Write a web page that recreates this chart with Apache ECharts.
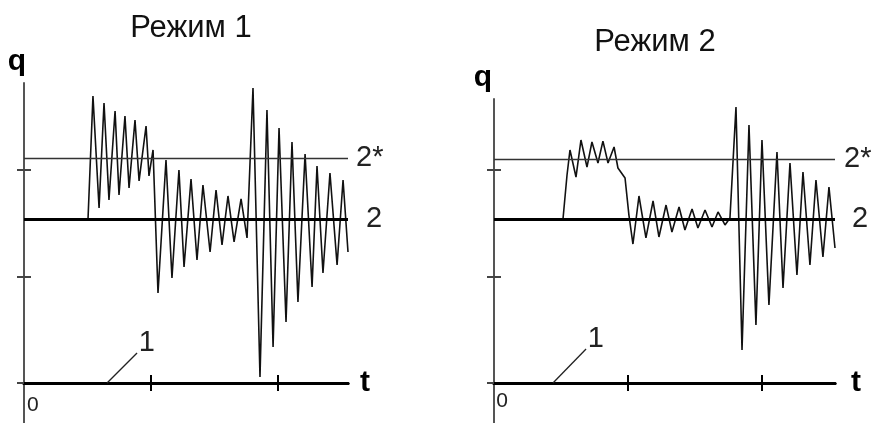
<!DOCTYPE html>
<html><head><meta charset="utf-8">
<script src="https://cdn.jsdelivr.net/npm/echarts@6/dist/echarts.min.js"></script>
<style>html,body{margin:0;padding:0;background:#fff}#c{width:875px;height:423px}</style>
</head><body><div id="c"></div>
<script>
// ---- data (t, q units: axis tick spacing = 1) ----
const titles = ['Режим 1', 'Режим 2'];
const tickValues = [0, 1, 2];
const zeroText = '0';
const zeroLabelAt = [[0.07, -0.207], [0.06, -0.17]];
const tMax = [2.551, 2.545];
const qMax = [2.817, 2.667];
const qMin = [-0.376, -0.376];
const level2 = [1.54, 1.54];
const level2star = [2.113, 2.103];
const leaderStart = [[0.654, 0], [0.440, 0]];
const leaderEnd = [[0.890, 0.282], [0.687, 0.319]];

const tLeft = [0.504,0.543,0.591,0.630,0.669,0.717,0.748,0.795,0.827,0.874,0.906,0.961,0.984,1.016,
  1.055,1.118,1.165,1.220,1.260,1.315,1.362,1.409,1.465,1.512,1.559,1.606,1.654,1.709,1.756,
  1.803,1.858,1.913,1.961,2.008,2.063,2.110,2.157,2.213,2.268,2.307,2.354,2.409,2.465,2.512,2.551];
const qLeft = [1.540,2.695,1.643,2.629,1.718,2.554,1.765,2.507,1.831,2.469,1.897,2.413,1.944,2.188,
  0.845,2.094,0.986,2.000,1.089,1.915,1.155,1.859,1.230,1.812,1.296,1.756,1.324,1.728,1.362,
  2.770,0.056,2.563,0.338,2.394,0.573,2.263,0.761,2.150,0.901,2.038,1.033,1.972,1.108,1.906,1.230];

const tRight = [0.515,0.545,0.567,0.612,0.649,0.694,0.731,0.776,0.813,0.851,0.896,0.925,0.978,1.007,1.037,
  1.082,1.134,1.187,1.231,1.284,1.328,1.381,1.425,1.478,1.522,1.575,1.627,1.672,1.724,1.761,
  1.806,1.851,1.903,1.955,2.000,2.052,2.112,2.157,2.209,2.261,2.306,2.358,2.403,2.455,2.500,2.545];
const qRight = [1.540,1.953,2.188,1.934,2.282,2.028,2.263,2.066,2.272,2.066,2.216,2.019,1.925,1.577,1.305,
  1.756,1.362,1.709,1.371,1.671,1.418,1.653,1.437,1.634,1.455,1.624,1.465,1.606,1.484,1.549,
  2.592,0.310,2.423,0.545,2.282,0.732,2.169,0.892,2.066,1.014,1.981,1.108,1.906,1.183,1.840,1.268];

const FONT = 'Liberation Sans, Arial, sans-serif';
const grids = [
  {left: 24, top: 83, width: 324, height: 340, containLabel: false, outerBoundsMode: 'none'},
  {left: 494, top: 99, width: 341, height: 324, containLabel: false, outerBoundsMode: 'none'}
];
const titlePos = [{x: 186, y: 8}, {x: 650, y: 22}];
const qNamePad = [[0, 14, 0, 0], [0, 22, 0, 0]];
const tNameGap = [12, 16];
const starDist = [8, 9];
const twoDist = [18, 17];

const chart = echarts.init(document.getElementById('c'), null, {renderer: 'canvas'});
const xAxes = [], yAxes = [], series = [], title = [];
[0, 1].forEach(p => {
  title.push({text: titles[p], left: titlePos[p].x, top: titlePos[p].y, textAlign: 'center',
    textStyle: {fontFamily: FONT, fontSize: 31, fontWeight: 'normal', color: '#111'}});
  xAxes.push({type: 'value', gridIndex: p, min: 0, max: tMax[p], position: 'bottom',
    axisLine: {show: true, onZero: true, onZeroAxisIndex: 2 * p, lineStyle: {color: '#000', width: 3}},
    axisTick: {show: true, customValues: [1, 2], length: 8, lineStyle: {color: '#000', width: 2}},
    axisLabel: {show: false},
    splitLine: {show: false},
    name: 't', nameLocation: 'end', nameGap: tNameGap[p],
    nameTextStyle: {fontFamily: FONT, fontSize: 30, fontWeight: 'bold', color: '#000', verticalAlign: 'middle'}
  });
  xAxes.push({type: 'value', gridIndex: p, min: 0, max: tMax[p], position: 'bottom',
    axisLine: {show: true, onZero: true, onZeroAxisIndex: 2 * p, lineStyle: {color: '#000', width: 3}},
    axisTick: {show: true, inside: true, customValues: [1, 2], length: 8, lineStyle: {color: '#000', width: 2}},
    axisLabel: {show: false}, splitLine: {show: false}
  });
  yAxes.push({type: 'value', gridIndex: p, min: qMin[p], max: qMax[p], position: 'left',
    axisLine: {show: true, onZero: false, lineStyle: {color: '#555', width: 2}},
    axisTick: {show: true, customValues: tickValues, length: 7, lineStyle: {color: '#444', width: 2}},
    axisLabel: {show: false}, splitLine: {show: false},
    name: 'q', nameLocation: 'end', nameGap: 6,
    nameTextStyle: {fontFamily: FONT, fontSize: 30, fontWeight: 'bold', color: '#000', padding: qNamePad[p]}
  });
  yAxes.push({type: 'value', gridIndex: p, min: qMin[p], max: qMax[p], position: 'left',
    axisLine: {show: false, onZero: false},
    axisTick: {show: true, inside: true, customValues: [1, 2], length: 7, lineStyle: {color: '#444', width: 2}},
    axisLabel: {show: false}, splitLine: {show: false}
  });
  const ts = p === 0 ? tLeft : tRight;
  const qs = p === 0 ? qLeft : qRight;
  series.push({
    type: 'line', xAxisIndex: 2 * p, yAxisIndex: 2 * p, symbol: 'none', silent: true,
    data: ts.map((t, i) => [t, qs[i]]),
    lineStyle: {color: '#111', width: 1.6}, z: 3,
    markPoint: {
      silent: true, animation: false,
      data: [{coord: zeroLabelAt[p], symbol: 'circle', symbolSize: 1,
        itemStyle: {color: 'rgba(0,0,0,0)'},
        label: {show: true, position: 'inside', formatter: zeroText,
          fontFamily: FONT, fontSize: 21, color: '#222'}}]
    },
    markLine: {
      silent: true, symbol: 'none', animation: false,
      data: [
        {yAxis: level2star[p], lineStyle: {color: '#333', width: 1.3, type: 'solid'},
          label: {show: true, position: 'end', distance: starDist[p], formatter: '2*',
            fontFamily: FONT, fontSize: 29, color: '#222'}},
        {yAxis: level2[p], lineStyle: {color: '#000', width: 3, type: 'solid'},
          label: {show: true, position: 'end', distance: twoDist[p], formatter: '2',
            fontFamily: FONT, fontSize: 29, color: '#222'}},
        [{coord: leaderStart[p], lineStyle: {color: '#222', width: 1.3, type: 'solid'}},
         {coord: leaderEnd[p], label: {show: true, position: 'end', distance: 14, formatter: '1',
            fontFamily: FONT, fontSize: 29, color: '#222'}}]
      ]
    }
  });
});

chart.setOption({
  animation: false,
  backgroundColor: '#fff',
  title: title,
  grid: grids,
  xAxis: xAxes,
  yAxis: yAxes,
  series: series
});
</script></body></html>
